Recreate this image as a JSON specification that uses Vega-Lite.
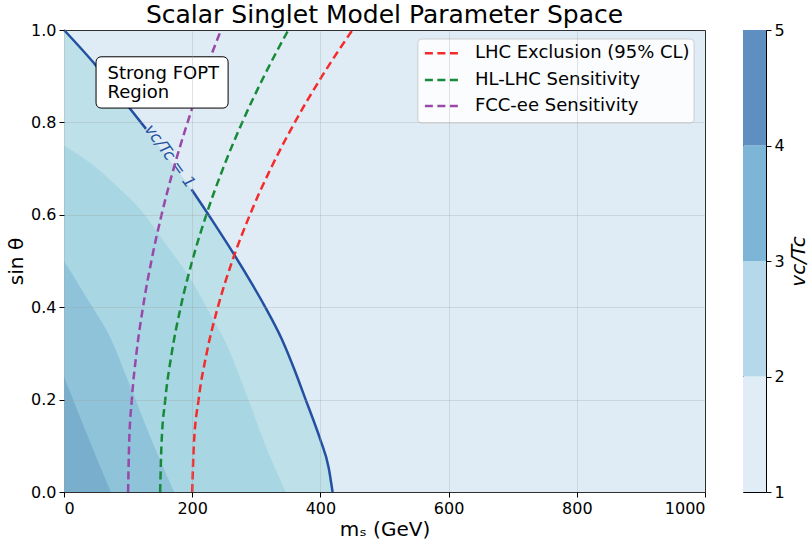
{
  "$schema": "https://vega.github.io/schema/vega-lite/v6.json",
  "background": "white",
  "padding": {"left": 6, "top": 2, "right": 0, "bottom": 0},
  "config": {
    "font": "DejaVu Sans",
    "view": {"stroke": "black", "strokeWidth": 1},
    "axis": {
      "labelFont": "DejaVu Sans", "titleFont": "DejaVu Sans",
      "labelFontSize": 16, "titleFontSize": 20,
      "labelColor": "#000", "titleColor": "#000", "titleFontWeight": "normal",
      "tickColor": "#000", "domainColor": "#000", "tickSize": 5, "labelPadding": 3
    }
  },
  "datasets": {
    "bands": [
      {"band": "B", "m": 0, "s": 1.0}, {"band": "B", "m": 50, "s": 0.923}, {"band": "B", "m": 100, "s": 0.835},
      {"band": "B", "m": 128, "s": 0.786}, {"band": "B", "m": 150, "s": 0.745}, {"band": "B", "m": 199, "s": 0.655},
      {"band": "B", "m": 234, "s": 0.582}, {"band": "B", "m": 265, "s": 0.515}, {"band": "B", "m": 290, "s": 0.458},
      {"band": "B", "m": 312, "s": 0.405}, {"band": "B", "m": 340, "s": 0.33}, {"band": "B", "m": 360, "s": 0.263},
      {"band": "B", "m": 377, "s": 0.2}, {"band": "B", "m": 390, "s": 0.152}, {"band": "B", "m": 400, "s": 0.113},
      {"band": "B", "m": 413, "s": 0.052}, {"band": "B", "m": 419, "s": 0.0},
      {"band": "C", "m": 0, "s": 0.75}, {"band": "C", "m": 40, "s": 0.713}, {"band": "C", "m": 80, "s": 0.665},
      {"band": "C", "m": 120, "s": 0.61}, {"band": "C", "m": 156, "s": 0.542}, {"band": "C", "m": 200, "s": 0.455},
      {"band": "C", "m": 234, "s": 0.37}, {"band": "C", "m": 250, "s": 0.33}, {"band": "C", "m": 286, "s": 0.206},
      {"band": "C", "m": 317, "s": 0.091}, {"band": "C", "m": 346, "s": 0.0},
      {"band": "D", "m": 0, "s": 0.5}, {"band": "D", "m": 36, "s": 0.419}, {"band": "D", "m": 74, "s": 0.329},
      {"band": "D", "m": 100, "s": 0.24}, {"band": "D", "m": 120, "s": 0.17}, {"band": "D", "m": 145, "s": 0.085},
      {"band": "D", "m": 172, "s": 0.0},
      {"band": "E", "m": 0, "s": 0.25}, {"band": "E", "m": 31, "s": 0.141}, {"band": "E", "m": 73, "s": 0.0}
    ],
    "vline": [
      {"seg": 1, "m": 0, "s": 1.0}, {"seg": 1, "m": 50, "s": 0.923}, {"seg": 1, "m": 100, "s": 0.835},
      {"seg": 1, "m": 128, "s": 0.786},
      {"seg": 2, "m": 199, "s": 0.655}, {"seg": 2, "m": 234, "s": 0.582}, {"seg": 2, "m": 265, "s": 0.515},
      {"seg": 2, "m": 290, "s": 0.458}, {"seg": 2, "m": 312, "s": 0.405}, {"seg": 2, "m": 340, "s": 0.33},
      {"seg": 2, "m": 360, "s": 0.263}, {"seg": 2, "m": 377, "s": 0.2}, {"seg": 2, "m": 390, "s": 0.152},
      {"seg": 2, "m": 400, "s": 0.113}, {"seg": 2, "m": 413, "s": 0.052}, {"seg": 2, "m": 419, "s": 0.0}
    ],
    "curves": [
      {"exp": "LHC Exclusion (95% CL)", "s": 0.0, "m": 200}, {"exp": "LHC Exclusion (95% CL)", "s": 0.1, "m": 202.5},
      {"exp": "LHC Exclusion (95% CL)", "s": 0.2, "m": 210}, {"exp": "LHC Exclusion (95% CL)", "s": 0.3, "m": 222.5},
      {"exp": "LHC Exclusion (95% CL)", "s": 0.4, "m": 240}, {"exp": "LHC Exclusion (95% CL)", "s": 0.5, "m": 262.5},
      {"exp": "LHC Exclusion (95% CL)", "s": 0.6, "m": 290}, {"exp": "LHC Exclusion (95% CL)", "s": 0.7, "m": 322.5},
      {"exp": "LHC Exclusion (95% CL)", "s": 0.8, "m": 360}, {"exp": "LHC Exclusion (95% CL)", "s": 0.9, "m": 402.5},
      {"exp": "LHC Exclusion (95% CL)", "s": 1.0, "m": 450},
      {"exp": "HL-LHC Sensitivity", "s": 0.0, "m": 150}, {"exp": "HL-LHC Sensitivity", "s": 0.1, "m": 152},
      {"exp": "HL-LHC Sensitivity", "s": 0.2, "m": 158}, {"exp": "HL-LHC Sensitivity", "s": 0.3, "m": 168},
      {"exp": "HL-LHC Sensitivity", "s": 0.4, "m": 182}, {"exp": "HL-LHC Sensitivity", "s": 0.5, "m": 200},
      {"exp": "HL-LHC Sensitivity", "s": 0.6, "m": 222}, {"exp": "HL-LHC Sensitivity", "s": 0.7, "m": 248},
      {"exp": "HL-LHC Sensitivity", "s": 0.8, "m": 278}, {"exp": "HL-LHC Sensitivity", "s": 0.9, "m": 312},
      {"exp": "HL-LHC Sensitivity", "s": 1.0, "m": 350},
      {"exp": "FCC-ee Sensitivity", "s": 0.0, "m": 100}, {"exp": "FCC-ee Sensitivity", "s": 0.1, "m": 101.5},
      {"exp": "FCC-ee Sensitivity", "s": 0.2, "m": 105.8}, {"exp": "FCC-ee Sensitivity", "s": 0.3, "m": 113},
      {"exp": "FCC-ee Sensitivity", "s": 0.4, "m": 123.2}, {"exp": "FCC-ee Sensitivity", "s": 0.5, "m": 136.3},
      {"exp": "FCC-ee Sensitivity", "s": 0.6, "m": 152.2}, {"exp": "FCC-ee Sensitivity", "s": 0.7, "m": 171},
      {"exp": "FCC-ee Sensitivity", "s": 0.8, "m": 192.8}, {"exp": "FCC-ee Sensitivity", "s": 0.9, "m": 217.5},
      {"exp": "FCC-ee Sensitivity", "s": 1.0, "m": 245}
    ],
    "cbar": [
      {"band": "1-2", "lo": 1, "hi": 2}, {"band": "2-3", "lo": 2, "hi": 3},
      {"band": "3-4", "lo": 3, "hi": 4}, {"band": "4-5", "lo": 4, "hi": 5}
    ]
  },
  "spacing": 36,
  "hconcat": [
    {
      "width": 641,
      "height": 462,
      "title": {"text": "Scalar Singlet Model Parameter Space", "fontSize": 25, "fontWeight": "normal", "font": "DejaVu Sans", "color": "#000", "offset": -6, "anchor": "middle"},
      "view": {"fill": "#dfecf6", "stroke": "black"},
      "layer": [
        {
          "data": {"name": "bands"},
          "transform": [{"filter": "datum.band === 'B'"}],
          "mark": {"type": "area", "color": "#bde0e9", "interpolate": "monotone"},
          "encoding": {
            "x": {"field": "m", "type": "quantitative", "scale": {"domain": [0, 1000], "nice": false},
              "axis": {"values": [0, 200, 400, 600, 800, 1000], "format": "d", "title": "mₛ (GeV)", "grid": true, "gridColor": "#a0a0a0", "gridOpacity": 0.3, "zindex": 1, "domain": false, "titlePadding": 3}},
            "y": {"field": "s", "type": "quantitative", "scale": {"domain": [0, 1], "nice": false},
              "axis": {"values": [0, 0.2, 0.4, 0.6, 0.8, 1.0], "format": ".1f", "title": "sin θ", "grid": true, "gridColor": "#a0a0a0", "gridOpacity": 0.3, "zindex": 1, "domain": false, "titlePadding": 4}}
          }
        },
        {
          "data": {"name": "bands"},
          "transform": [{"filter": "datum.band === 'C'"}],
          "mark": {"type": "area", "color": "#a8d6e3", "interpolate": "monotone"},
          "encoding": {"x": {"field": "m", "type": "quantitative"}, "y": {"field": "s", "type": "quantitative"}}
        },
        {
          "data": {"name": "bands"},
          "transform": [{"filter": "datum.band === 'D'"}],
          "mark": {"type": "area", "color": "#8ec3da", "interpolate": "monotone"},
          "encoding": {"x": {"field": "m", "type": "quantitative"}, "y": {"field": "s", "type": "quantitative"}}
        },
        {
          "data": {"name": "bands"},
          "transform": [{"filter": "datum.band === 'E'"}],
          "mark": {"type": "area", "color": "#79aecd", "interpolate": "monotone"},
          "encoding": {"x": {"field": "m", "type": "quantitative"}, "y": {"field": "s", "type": "quantitative"}}
        },
        {
          "data": {"name": "vline"},
          "mark": {"type": "line", "color": "#2350a0", "strokeWidth": 2.5, "interpolate": "monotone"},
          "encoding": {"x": {"field": "m", "type": "quantitative"}, "y": {"field": "s", "type": "quantitative"}, "detail": {"field": "seg"}}
        },
        {
          "data": {"values": [{}]},
          "mark": {"type": "text", "angle": 54, "fontSize": 16, "fontStyle": "italic", "color": "#2350a0", "font": "DejaVu Sans", "align": "center", "baseline": "middle"},
          "encoding": {"x": {"datum": 165}, "y": {"datum": 0.727}, "text": {"value": "vc/Tc = 1"}}
        },
        {
          "data": {"name": "curves"},
          "mark": {"type": "line", "strokeWidth": 2.5, "strokeDash": [8, 4.5], "interpolate": "monotone"},
          "encoding": {
            "x": {"field": "m", "type": "quantitative"},
            "y": {"field": "s", "type": "quantitative"},
            "order": {"field": "s", "type": "quantitative"},
            "color": {"field": "exp", "type": "nominal",
              "scale": {"domain": ["LHC Exclusion (95% CL)", "HL-LHC Sensitivity", "FCC-ee Sensitivity"], "range": ["#f52a2a", "#168a36", "#9a48a8"]},
              "legend": null}
          }
        },
        {
          "data": {"values": [{}]},
          "mark": {"type": "rect", "fill": "white", "fillOpacity": 0.85, "stroke": "#cccccc", "strokeWidth": 1, "cornerRadius": 4},
          "encoding": {"x": {"datum": 552}, "x2": {"datum": 983}, "y": {"datum": 0.9805}, "y2": {"datum": 0.7987}}
        },
        {
          "data": {"values": [{}]},
          "mark": {"type": "rule", "color": "#f52a2a", "strokeWidth": 2.5, "strokeDash": [8, 4.5]},
          "encoding": {"x": {"datum": 563}, "x2": {"datum": 619}, "y": {"datum": 0.9495}}
        },
        {
          "data": {"values": [{}]},
          "mark": {"type": "rule", "color": "#168a36", "strokeWidth": 2.5, "strokeDash": [8, 4.5]},
          "encoding": {"x": {"datum": 563}, "x2": {"datum": 619}, "y": {"datum": 0.8918}}
        },
        {
          "data": {"values": [{}]},
          "mark": {"type": "rule", "color": "#9a48a8", "strokeWidth": 2.5, "strokeDash": [8, 4.5]},
          "encoding": {"x": {"datum": 563}, "x2": {"datum": 619}, "y": {"datum": 0.8355}}
        },
        {
          "data": {"values": [{}]},
          "mark": {"type": "text", "align": "left", "baseline": "middle", "fontSize": 18, "font": "DejaVu Sans", "color": "#000"},
          "encoding": {"x": {"datum": 641}, "y": {"datum": 0.9495}, "text": {"value": "LHC Exclusion (95% CL)"}}
        },
        {
          "data": {"values": [{}]},
          "mark": {"type": "text", "align": "left", "baseline": "middle", "fontSize": 18, "font": "DejaVu Sans", "color": "#000"},
          "encoding": {"x": {"datum": 641}, "y": {"datum": 0.8918}, "text": {"value": "HL-LHC Sensitivity"}}
        },
        {
          "data": {"values": [{}]},
          "mark": {"type": "text", "align": "left", "baseline": "middle", "fontSize": 18, "font": "DejaVu Sans", "color": "#000"},
          "encoding": {"x": {"datum": 641}, "y": {"datum": 0.8355}, "text": {"value": "FCC-ee Sensitivity"}}
        },
        {
          "data": {"values": [{}]},
          "mark": {"type": "rect", "fill": "white", "stroke": "black", "strokeWidth": 1, "cornerRadius": 5},
          "encoding": {"x": {"datum": 50}, "x2": {"datum": 256}, "y": {"datum": 0.942}, "y2": {"datum": 0.831}}
        },
        {
          "data": {"values": [{}]},
          "mark": {"type": "text", "align": "left", "baseline": "middle", "fontSize": 18, "lineHeight": 19, "font": "DejaVu Sans", "color": "#000"},
          "encoding": {"x": {"datum": 68}, "y": {"datum": 0.905}, "text": {"value": ["Strong FOPT", "Region"]}}
        }
      ]
    },
    {
      "width": 23,
      "height": 462,
      "title": {"text": " ", "fontSize": 25, "offset": -6},
      "view": {"stroke": "black"},
      "data": {"name": "cbar"},
      "mark": {"type": "rect"},
      "encoding": {
        "x": {"datum": 0, "type": "quantitative", "scale": {"domain": [0, 1], "nice": false}, "axis": null},
        "x2": {"datum": 1},
        "y": {"field": "lo", "type": "quantitative", "scale": {"domain": [1, 5], "nice": false},
          "axis": {"orient": "right", "values": [1, 2, 3, 4, 5], "title": "vc/Tc", "titleFontStyle": "italic", "titleAngle": 270, "titleBaseline": "top", "grid": false, "domain": false, "titlePadding": 4}},
        "y2": {"field": "hi"},
        "fill": {"field": "band", "type": "nominal", "scale": {"domain": ["1-2", "2-3", "3-4", "4-5"], "range": ["#e0edf7", "#b5d9ea", "#7cb5d6", "#5f8fc0"]}, "legend": null}
      }
    }
  ]
}
